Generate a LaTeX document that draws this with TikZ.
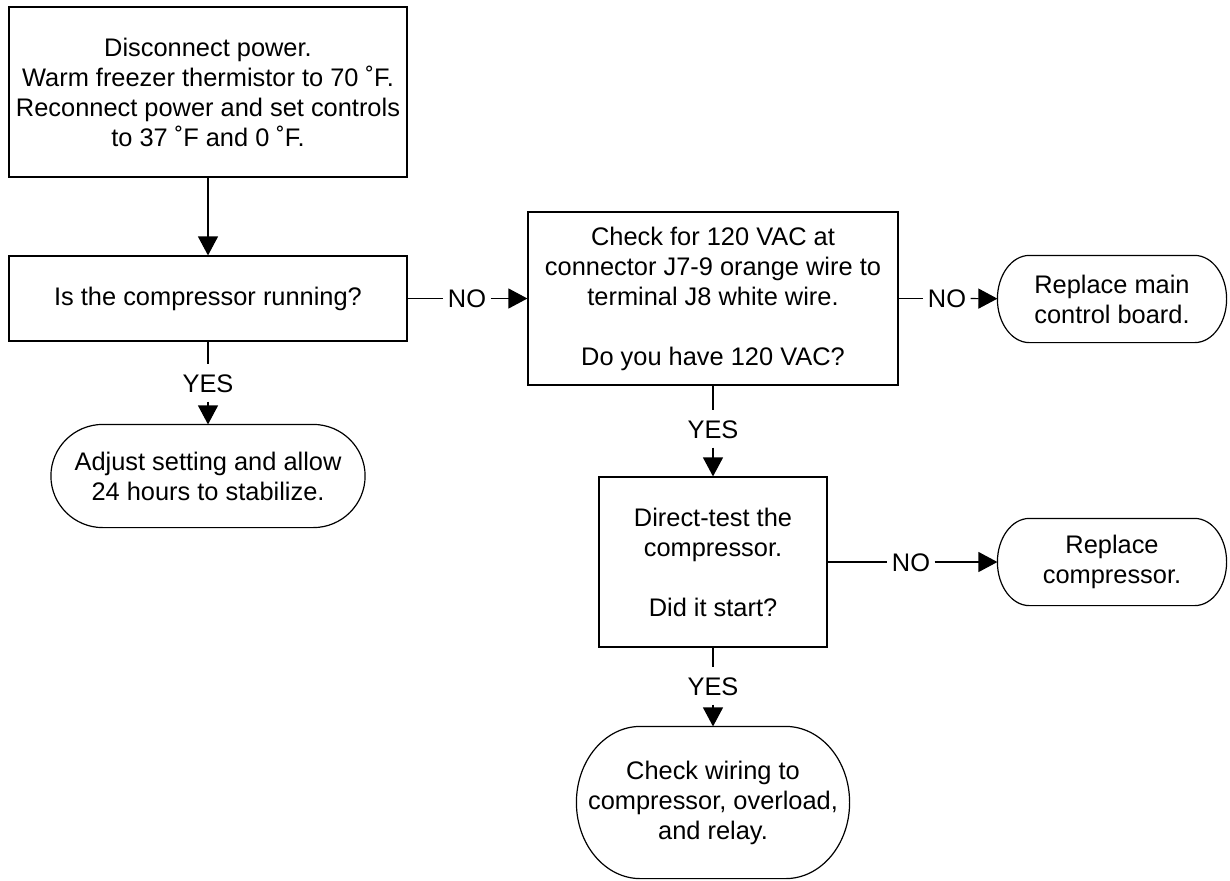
\documentclass[tikz,border=0pt]{standalone}
\usepackage{fontspec}
\setmainfont{Liberation Sans}
\usetikzlibrary{arrows.meta,calc,positioning}

\begin{document}
\begin{tikzpicture}[x=0.5pt, y=-0.5pt, font=\fontsize{12.7}{15}\selectfont,
    line width=0.6pt, >={Triangle[length=9.5pt,width=10pt]},
    stepbox/.style={draw, rectangle, align=center, inner sep=0pt},
    endbox/.style={rectangle, align=center, inner sep=0pt},
    answer/.style={inner xsep=2pt, inner ysep=4.5pt, text height=9pt, text depth=0pt}]
  \useasboundingbox (0,0) rectangle (1230,880);

  % Process boxes
  \node[stepbox, minimum width=199pt, minimum height=85pt] (start) at (208,92)
    {Disconnect power.\\Warm freezer thermistor to 70 ˚F.\\Reconnect power and set controls\\to 37 ˚F and 0 ˚F.};
  \node[stepbox, minimum width=199pt, minimum height=42.5pt] (running) at (208,298.5)
    {Is the compressor running?};
  \node[stepbox, minimum width=185pt, minimum height=86.5pt] (vac) at (713,298.5)
    {Check for 120 VAC at\\connector J7-9 orange wire to\\terminal J8 white wire.\\[15pt]Do you have 120 VAC?};
  \node[stepbox, minimum width=114pt, minimum height=85pt] (direct) at (713,562)
    {Direct-test the\\compressor.\\[15pt]Did it start?};

  % Terminators
  \node[endbox, minimum width=156.5pt, minimum height=51pt] (adjust) at (208,476)
    {Adjust setting and allow\\24 hours to stabilize.};
  \node[endbox, minimum width=114pt, minimum height=43pt] (board) at (1112,299)
    {Replace main\\control board.};
  \node[endbox, minimum width=114pt, minimum height=43pt] (replace) at (1112,562)
    {Replace\\compressor.};
  \node[endbox, minimum width=136pt, minimum height=75.5pt] (wiring) at (713,802.5)
    {Check wiring to\\compressor, overload,\\and relay.};

  % Terminator outlines (elliptic ends)
  \foreach \t/\rx in {adjust/26pt, board/16pt, replace/16pt, wiring/32pt}
    \draw let \p1=(\t.north), \p2=(\t.south), \n1={(\y1-\y2)/2} in
      ($(\t.north west)+(\rx,0pt)$) -- ($(\t.north east)+(-\rx,0pt)$)
      arc[start angle=90, end angle=-90, x radius=\rx, y radius=\n1]
      -- ($(\t.south west)+(\rx,0pt)$)
      arc[start angle=270, end angle=90, x radius=\rx, y radius=\n1] -- cycle;

  % Answer labels
  \node[answer] (yes1) at (208,383) {YES};
  \node[answer] (no1) at (467,298.5) {NO};
  \node[answer] (no2) at (947,298.5) {NO};
  \node[answer] (yes2) at (713,429) {YES};
  \node[answer] (no3) at (911,562) {NO};
  \node[answer] (yes3) at (713,686) {YES};

  % Connectors
  \draw[->] (start) -- (running);
  \draw (running) -- (yes1);
  \draw[->] (yes1) -- (adjust);
  \draw (running) -- (no1);
  \draw[->] (no1) -- (vac);
  \draw (vac) -- (no2);
  \draw[->] (no2) -- (board);
  \draw (vac) -- (yes2);
  \draw[->] (yes2) -- (direct);
  \draw (direct) -- (no3);
  \draw[->] (no3) -- (replace);
  \draw (direct) -- (yes3);
  \draw[->] (yes3) -- (wiring);
\end{tikzpicture}
\end{document}
